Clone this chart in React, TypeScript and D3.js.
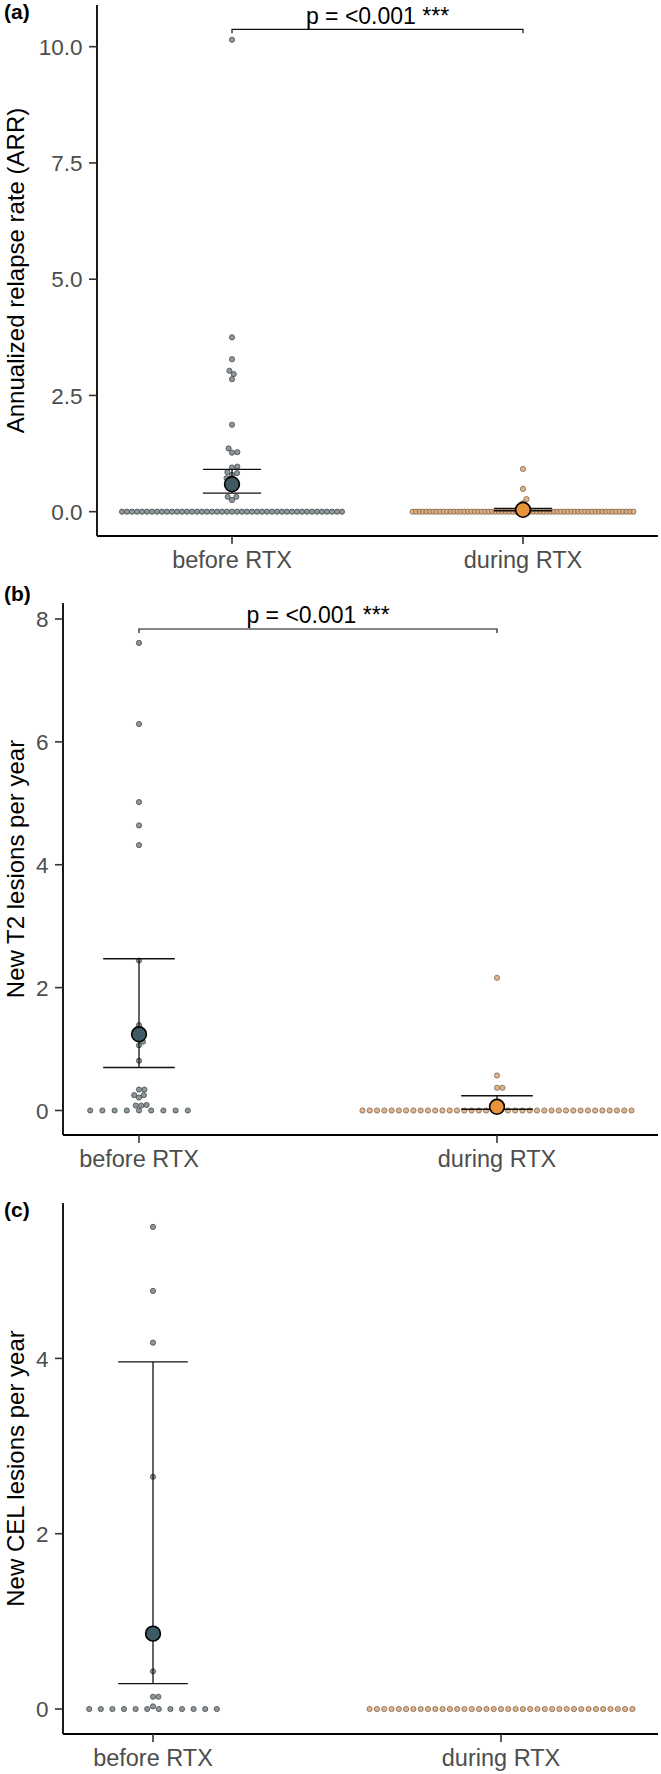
import React from 'react';
import * as d3 from 'd3';

// ---------- data ----------
const categories = ['before RTX', 'during RTX'];

// (a) Annualized relapse rate
const arrBeforeNonZero = [10.15, 3.75, 3.28, 3.03, 2.96, 2.85, 1.87, 1.36, 1.28, 1.27, 0.97, 0.95, 0.85, 0.83, 0.79, 0.72, 0.67, 0.62, 0.55, 0.32, 0.32, 0.25];
const arrBeforeZeroCount = 45;
const arrDuringNonZero = [0.92, 0.49, 0.27, 0.18];
const arrDuringZeroCount = 65;
const arrMean = [0.59, 0.04];
const arrLower = [0.4, 0.02];
const arrUpper = [0.91, 0.07];
const arrTicks = [0, 2.5, 5, 7.5, 10];

// (b) New T2 lesions per year
const t2BeforeNonZero = [7.61, 6.29, 5.02, 4.64, 4.32, 2.44, 1.39, 1.12, 1.06, 0.81, 0.34, 0.34, 0.25, 0.25, 0.21, 0.09, 0.08, 0.08];
const t2BeforeZeroCount = 9;
const t2DuringNonZero = [2.16, 0.57, 0.37, 0.37];
const t2DuringZeroCount = 38;
const t2Mean = [1.24, 0.06];
const t2Lower = [0.7, 0.02];
const t2Upper = [2.47, 0.24];
const t2Ticks = [0, 2, 4, 6, 8];

// (c) New CEL lesions per year
const celBeforeNonZero = [5.5, 4.77, 4.18, 2.65, 0.43, 0.14, 0.14, 0.03];
const celBeforeZeroCount = 12;
const celDuringNonZero: number[] = [];
const celDuringZeroCount = 37;
const celMean: (number | null)[] = [0.86, null];
const celLower: (number | null)[] = [0.29, null];
const celUpper: (number | null)[] = [3.96, null];
const celTicks = [0, 2, 4];

const pText = 'p = <0.001 ***';

const withZeros = (nz: number[], n: number) => nz.concat(new Array(n).fill(0));

// ---------- layout / style ----------
const FONT = 'Liberation Sans, Arial, Helvetica, sans-serif';
const groupStyle = [
  { fill: '#7b8588', stroke: '#3e4749', meanFill: '#3e5a62' },
  { fill: '#d9a97e', stroke: '#80603f', meanFill: '#e8923b' },
];

type Panel = {
  label: string; labelY: number; title: string;
  left: number; right: number; top: number; bottom: number;
  domain: [number, number]; xRange: [number, number];
  ticks: number[]; fmt: string;
  groups: number[][]; rowSpacing: number[];
  mean: (number | null)[]; lower: (number | null)[]; upper: (number | null)[];
  bracketY: number | null;
};

const panels: Panel[] = [
  {
    label: '(a)', labelY: 19, title: 'Annualized relapse rate (ARR)',
    left: 97, right: 658, top: 5, bottom: 536,
    domain: [-0.523, 10.897], xRange: [232, 523],
    ticks: arrTicks, fmt: '.1f',
    groups: [withZeros(arrBeforeNonZero, arrBeforeZeroCount), withZeros(arrDuringNonZero, arrDuringZeroCount)],
    rowSpacing: [5.0, 3.45],
    mean: arrMean, lower: arrLower, upper: arrUpper, bracketY: 10.374,
  },
  {
    label: '(b)', labelY: 601, title: 'New T2 lesions per year',
    left: 63, right: 658, top: 603, bottom: 1135,
    domain: [-0.399, 8.26], xRange: [139, 497],
    ticks: t2Ticks, fmt: 'd',
    groups: [withZeros(t2BeforeNonZero, t2BeforeZeroCount), withZeros(t2DuringNonZero, t2DuringZeroCount)],
    rowSpacing: [12.2, 7.27],
    mean: t2Mean, lower: t2Lower, upper: t2Upper, bracketY: 7.837,
  },
  {
    label: '(c)', labelY: 1217, title: 'New CEL lesions per year',
    left: 63, right: 658, top: 1203, bottom: 1734,
    domain: [-0.285, 5.773], xRange: [153, 501],
    ticks: celTicks, fmt: 'd',
    groups: [withZeros(celBeforeNonZero, celBeforeZeroCount), withZeros(celDuringNonZero, celDuringZeroCount)],
    rowSpacing: [11.6, 7.3],
    mean: celMean, lower: celLower, upper: celUpper, bracketY: null,
  },
];

const PT_R = 2.6;
const COLL = 5.4;

function swarm(values: number[], y: (v: number) => number, cx: number, rowSpacing: number) {
  const counts = d3.rollup(values, (v) => v.length, (v) => v);
  const placed: { x: number; y: number }[] = [];
  for (const [v, n] of counts) {
    if (n >= 3) {
      for (let i = 0; i < n; i++) placed.push({ x: cx + (i - (n - 1) / 2) * rowSpacing, y: y(v) });
    }
  }
  const rest = values.filter((v) => (counts.get(v) || 0) < 3).sort(d3.ascending);
  for (const v of rest) {
    const py = y(v);
    const cands = [0];
    for (const p of placed) {
      const dy = py - p.y;
      if (Math.abs(dy) < COLL) {
        const dx = Math.sqrt(COLL * COLL - dy * dy);
        cands.push(p.x - cx + dx, p.x - cx - dx);
      }
    }
    cands.sort((a, b) => Math.abs(a) - Math.abs(b));
    let chosen = 0;
    for (const c of cands) {
      const ok = placed.every((p) => (cx + c - p.x) ** 2 + (py - p.y) ** 2 >= COLL * COLL - 1e-6);
      if (ok) { chosen = c; break; }
    }
    placed.push({ x: cx + chosen, y: py });
  }
  return placed;
}

function PanelView({ p }: { p: Panel }) {
  const y = d3.scaleLinear().domain(p.domain).range([p.bottom, p.top]);
  const x = d3.scalePoint<string>().domain(categories).range(p.xRange);
  const fmt = d3.format(p.fmt);
  const midY = (p.top + p.bottom) / 2;
  return (
    <g>
      <text x={4} y={p.labelY} fontFamily={FONT} fontWeight="bold" fontSize={21} fill="#000">{p.label}</text>
      <text transform={`translate(23.5,${midY}) rotate(-90)`} textAnchor="middle" fontFamily={FONT} fontSize={24} fill="#000">{p.title}</text>
      {/* points */}
      {p.groups.map((vals, gi) => {
        const pts = swarm(vals, y, x(categories[gi]) as number, p.rowSpacing[gi]);
        return (
          <g key={gi}>
            {pts.map((pt, i) => (
              <circle key={i} cx={pt.x} cy={pt.y} r={PT_R} fill={groupStyle[gi].fill} fillOpacity={0.85}
                stroke={groupStyle[gi].stroke} strokeOpacity={0.85} strokeWidth={0.9} />
            ))}
          </g>
        );
      })}
      {/* error bars + means */}
      {categories.map((c, gi) => {
        const m = p.mean[gi], lo = p.lower[gi], hi = p.upper[gi];
        if (m == null || lo == null || hi == null) return null;
        const cx = x(c) as number;
        const hw = (p.xRange[1] - p.xRange[0]) * 0.1;
        return (
          <g key={c}>
            <line x1={cx} x2={cx} y1={y(hi)} y2={y(lo)} stroke="#111" strokeWidth={1.3} />
            <line x1={cx - hw} x2={cx + hw} y1={y(hi)} y2={y(hi)} stroke="#111" strokeWidth={1.3} />
            <line x1={cx - hw} x2={cx + hw} y1={y(lo)} y2={y(lo)} stroke="#111" strokeWidth={1.3} />
            <circle cx={cx} cy={y(m)} r={7.4} fill={groupStyle[gi].meanFill} stroke="#000" strokeWidth={1.6} />
          </g>
        );
      })}
      {/* bracket */}
      {p.bracketY != null && (() => {
        const by = y(p.bracketY);
        const x0 = x(categories[0]) as number, x1 = x(categories[1]) as number;
        return (
          <g>
            <path d={`M${x0},${by + 4}V${by}H${x1}V${by + 4}`} fill="none" stroke="#111" strokeWidth={1.2} />
            <text x={(x0 + x1) / 2} y={by - 5.5} textAnchor="middle" fontFamily={FONT} fontSize={23} fill="#000">{pText}</text>
          </g>
        );
      })()}
      {/* y axis */}
      <line x1={p.left} x2={p.left} y1={p.top} y2={p.bottom} stroke="#000" strokeWidth={1.8} />
      {p.ticks.map((t) => (
        <g key={t}>
          <line x1={p.left - 8} x2={p.left} y1={y(t)} y2={y(t)} stroke="#333" strokeWidth={1.6} />
          <text x={p.left - 14.5} y={y(t)} dy="0.36em" textAnchor="end" fontFamily={FONT} fontSize={22.5} fill="#4d4d4d">{fmt(t)}</text>
        </g>
      ))}
      {/* x axis */}
      <line x1={p.left} x2={p.right} y1={p.bottom} y2={p.bottom} stroke="#000" strokeWidth={1.8} />
      {categories.map((c) => (
        <g key={c}>
          <line x1={x(c)} x2={x(c)} y1={p.bottom} y2={p.bottom + 8} stroke="#333" strokeWidth={1.6} />
          <text x={x(c)} y={p.bottom + 32} textAnchor="middle" fontFamily={FONT} fontSize={23.5} fill="#4d4d4d">{c}</text>
        </g>
      ))}
    </g>
  );
}

export default function App() {
  return (
    <svg width={661} height={1774} style={{ position: 'absolute', left: 0, top: 0, background: '#fff' }}>
      <rect width={661} height={1774} fill="#fff" />
      {panels.map((p) => <PanelView key={p.label} p={p} />)}
    </svg>
  );
}
